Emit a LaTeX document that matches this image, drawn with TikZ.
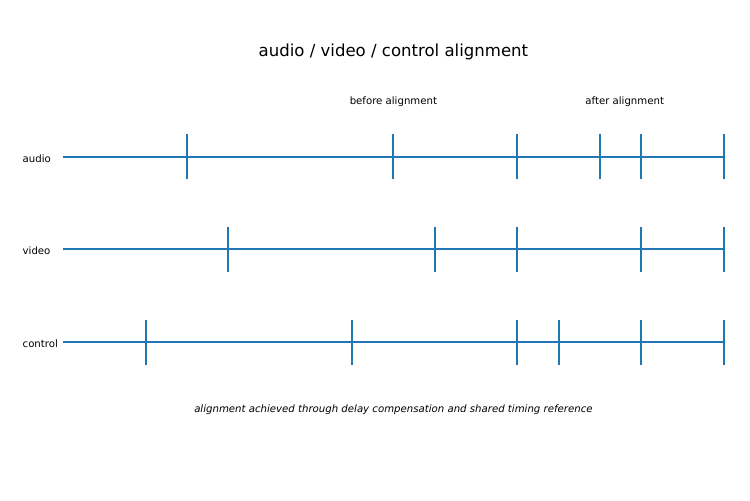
\documentclass[tikz,border=0pt]{standalone}
\usepackage{fontspec}
\setmainfont{DejaVu Sans}
\definecolor{trackblue}{HTML}{1F77B4}

\begin{document}
\begin{tikzpicture}[x=1cm, y=1cm, every node/.style={font=\fontsize{7}{8.5}\selectfont},
  track/.style={trackblue, line width=1.4pt}]
\useasboundingbox (-1.525,-3.826) rectangle (16.634,8.281);
\node (title) at (8,7.03) {\fontsize{11.4}{13.5}\selectfont audio / video / control alignment};
\node (before) at (8,5.83) {before alignment};
\node (after) at (13.6,5.83) {after alignment};
\foreach \y/\name/\ticks in {4.48/audio/{3,8,11,13,14,16}, 2.25/video/{4,9,11,14,16}, 0/control/{2,7,11,12,14,16}} {
  \node[anchor=west] (\name) at (-1.1,\y-.03) {\name};
  \draw[track] (0,\y) -- (16,\y);
  \foreach \x in \ticks \draw[track] (\x,\y-.545) -- ++(0,1.09);
}
\node (caption) at (8,-1.65) {\itshape alignment achieved through delay compensation and shared timing reference};
\end{tikzpicture}
\end{document}
